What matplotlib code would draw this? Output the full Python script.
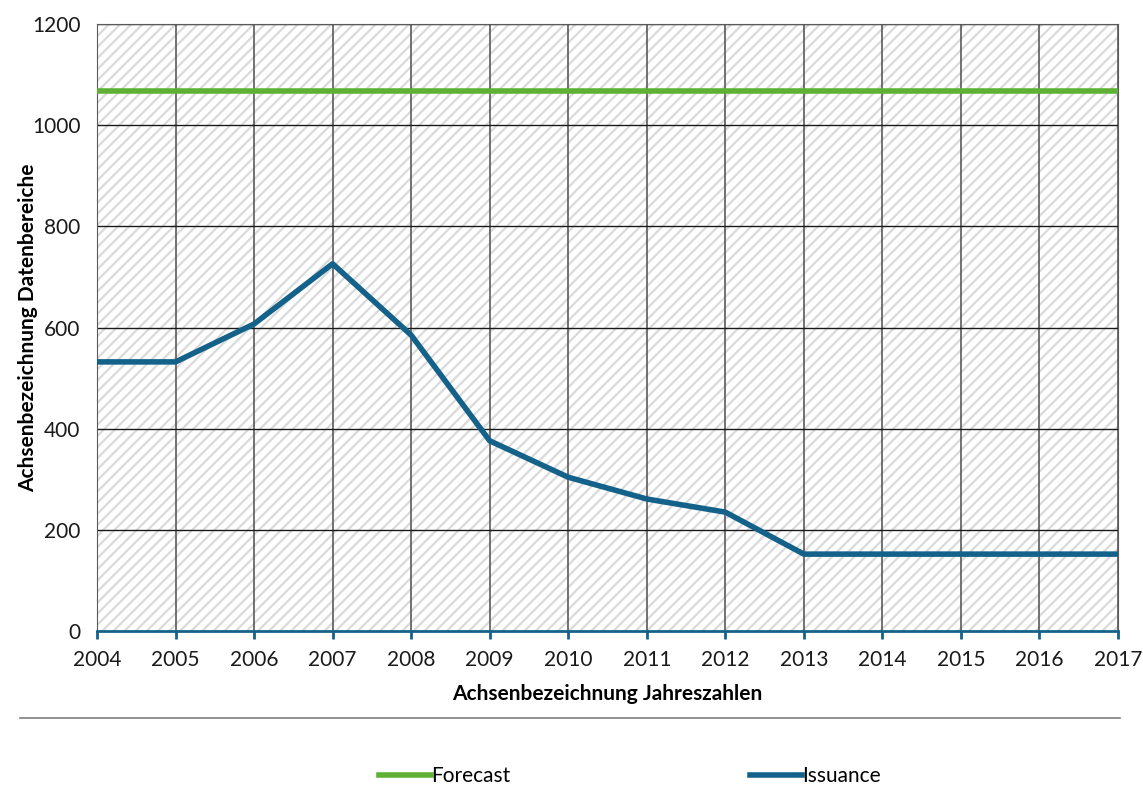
import numpy as np
import matplotlib
matplotlib.use('Agg')
import matplotlib.pyplot as plt
from matplotlib.patches import Rectangle
from matplotlib.lines import Line2D

years = [2004, 2005, 2006, 2007, 2008, 2009, 2010, 2011, 2012, 2013, 2014, 2015, 2016, 2017]
issuance = [532, 532, 607, 726, 585, 376, 304, 261, 235, 152, 152, 152, 152, 152]
forecast = [1068] * len(years)
y_ticks = [0, 200, 400, 600, 800, 1000, 1200]

green = '#5eb134'
blue = '#14628a'

plt.rcParams['font.family'] = ['Lato', 'DejaVu Sans']
plt.rcParams['hatch.linewidth'] = 1.6

fig = plt.figure(figsize=(11.43, 7.85), dpi=100)
ax = fig.add_axes([97 / 1143, 1 - 631 / 785, (1118 - 97) / 1143, (631 - 24) / 785])

# hatched plot background
ax.add_patch(Rectangle((0, 0), 1, 1, transform=ax.transAxes, facecolor='white',
                       edgecolor='#dadada', linewidth=0, hatch='///', zorder=0))

ax.set_xlim(years[0], years[-1])
ax.set_ylim(0, 1200)
ax.set_xticks(years)
ax.set_yticks(y_ticks)

for x in years[1:]:
    ax.axvline(x, color='#5a5a5a', lw=1.2, zorder=1)
for y in y_ticks[1:]:
    ax.axhline(y, color='#1a1a1a', lw=1.0, zorder=1)

ax.plot(years, forecast, color=green, lw=4, zorder=3, label='Forecast')
ax.plot(years, issuance, color=blue, lw=4, zorder=3, label='Issuance',
        solid_joinstyle='round')

for s in ['top', 'right', 'left']:
    ax.spines[s].set_color('#5a5a5a')
ax.spines['bottom'].set_color(blue)
ax.spines['bottom'].set_linewidth(2)
ax.spines['bottom'].set_zorder(4)
ax.tick_params(axis='x', direction='out', length=6, width=2, color=blue,
               labelsize=15, pad=8, labelcolor='#1a1a1a')
ax.tick_params(axis='y', length=0, labelsize=15, pad=12, labelcolor='#1a1a1a')

ax.set_xlabel('Achsenbezeichnung Jahreszahlen', fontsize=15, fontweight='bold', labelpad=10)
ax.set_ylabel('Achsenbezeichnung Datenbereiche', fontsize=15, fontweight='bold')
ax.yaxis.set_label_coords(-0.058, 0.5)

# separator line above legend
fig.add_artist(Line2D([20 / 1143, 1120 / 1143], [1 - 718 / 785, 1 - 718 / 785],
                      color='#7f7f7f', lw=1.2))

h, l = ax.get_legend_handles_labels()
fig.legend(h, l, loc='center', bbox_to_anchor=(0.551, 1 - 776 / 785), ncol=2,
           frameon=False, fontsize=15, handlelength=2.5, handletextpad=0.0,
           columnspacing=11.5)

fig.savefig('out.png', dpi=100)
